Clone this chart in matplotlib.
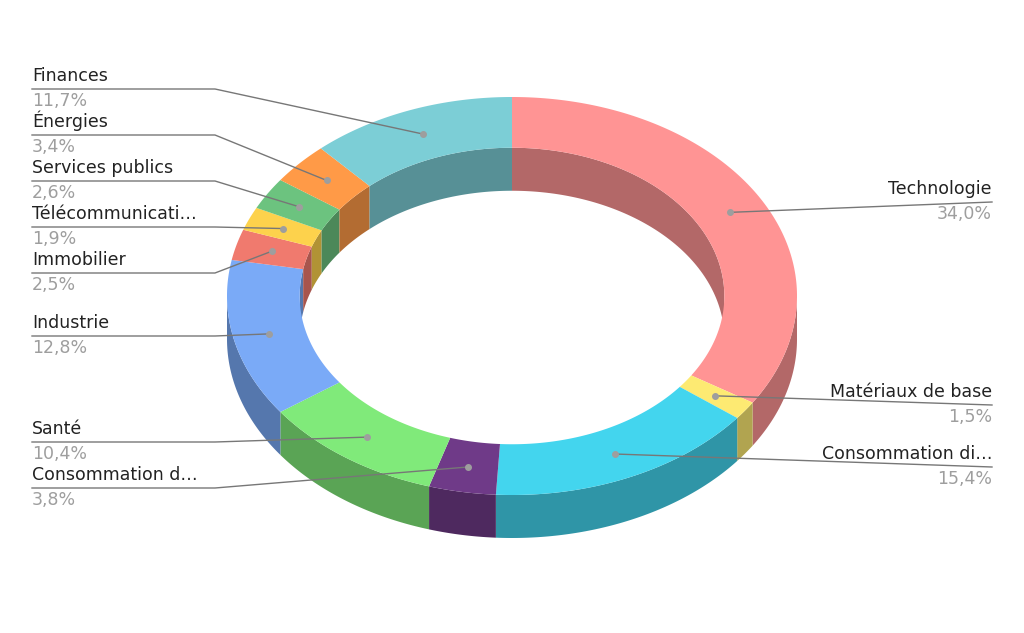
import numpy as np
import matplotlib
matplotlib.use("Agg")
import matplotlib.pyplot as plt
from matplotlib.colors import to_rgb

categories = ["Technologie", "Matériaux de base", "Consommation di…", "Consommation d…",
              "Santé", "Industrie", "Immobilier", "Télécommunicati…", "Services publics",
              "Énergies", "Finances"]
values = [34.0, 1.5, 15.4, 3.8, 10.4, 12.8, 2.5, 1.9, 2.6, 3.4, 11.7]
pct_labels = ["34,0%", "1,5%", "15,4%", "3,8%", "10,4%", "12,8%", "2,5%", "1,9%", "2,6%", "3,4%", "11,7%"]
colors = ["#ff9494", "#fdea72", "#43d5ee", "#6f3a88", "#80ea7a", "#7aaaf7", "#f07a6e",
          "#fdd24c", "#6cc37f", "#ff9a47", "#7cced6"]

# layout (pixels)
cx, cy = 512, 296
rx, ry = 285, 199
inner = 0.745
depth = 43
# label line y and side
label_y = [202, 405, 467, 488, 442, 336, 273, 227, 181, 135, 89]
label_right = [True, True, True, False, False, False, False, False, False, False, False]

fig = plt.figure(figsize=(10.24, 6.33), dpi=100)
ax = fig.add_axes([0, 0, 1, 1])
ax.set_xlim(0, 1024)
ax.set_ylim(633, 0)
ax.axis("off")

def pt(t, s=1.0, dy=0):
    return cx + s * rx * np.cos(t), cy - s * ry * np.sin(t) + dy

def dark(c, f=0.7):
    return tuple(v * f for v in to_rgb(c))

total = sum(values)
starts, ends = [], []
a = np.pi / 2
for v in values:
    span = v / total * 2 * np.pi
    starts.append(a)
    ends.append(a - span)
    a -= span

# inner walls (back half, sin>0)
for s0, e0, c in zip(starts, ends, colors):
    lo, hi = max(e0, 0), min(s0, np.pi)
    for off in (0, -2 * np.pi):
        l, h = max(e0 - off, 0) , min(s0 - off, np.pi)
        pass
    # handle angles possibly below 0 by normalizing to [-2pi, pi/2]
    segs = []
    for shift in (0, 2 * np.pi):
        l = max(e0 + shift, 0); h = min(s0 + shift, np.pi)
        if h > l:
            segs.append((l, h))
    for l, h in segs:
        t = np.linspace(h, l, 80)
        x1, y1 = pt(t, inner)
        x2, y2 = pt(t[::-1], inner, depth)
        ax.fill(np.r_[x1, x2], np.r_[y1, y2], color=dark(c), lw=0)

# outer walls (front half, sin<0)
for s0, e0, c in zip(starts, ends, colors):
    segs = []
    for shift in (0, 2 * np.pi):
        l = max(e0 + shift, np.pi); h = min(s0 + shift, 2 * np.pi)
        if h > l:
            segs.append((l, h))
    for l, h in segs:
        t = np.linspace(h, l, 80)
        x1, y1 = pt(t)
        x2, y2 = pt(t[::-1], 1.0, depth)
        ax.fill(np.r_[x1, x2], np.r_[y1, y2], color=dark(c), lw=0)

# top faces
for s0, e0, c in zip(starts, ends, colors):
    t = np.linspace(s0, e0, 150)
    x1, y1 = pt(t)
    x2, y2 = pt(t[::-1], inner)
    ax.fill(np.r_[x1, x2], np.r_[y1, y2], color=c, lw=0)

# labels
for name, pl, s0, e0, ly, right in zip(categories, pct_labels, starts, ends, label_y, label_right):
    m = (s0 + e0) / 2
    dx, dyp = pt(m, (1 + inner) / 2)
    if right:
        ax.plot([dx, 992], [dyp, ly], color="#777777", lw=1)
        ax.text(992, ly - 4, name, ha="right", va="bottom", fontsize=12.5, color="#222222")
        ax.text(992, ly + 3, pl, ha="right", va="top", fontsize=12.5, color="#9e9e9e")
    else:
        ax.plot([32, 215, dx], [ly, ly, dyp], color="#777777", lw=1)
        ax.text(32, ly - 4, name, ha="left", va="bottom", fontsize=12.5, color="#222222")
        ax.text(32, ly + 3, pl, ha="left", va="top", fontsize=12.5, color="#9e9e9e")
    ax.plot(dx, dyp, "o", color="#9e9e9e", ms=4)

fig.savefig("out.png", dpi=100)
